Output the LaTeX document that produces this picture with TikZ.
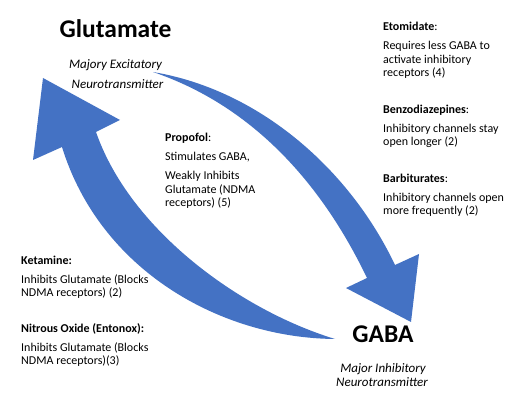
\documentclass[tikz,border=0pt]{standalone}
\usepackage{fontspec}
\setmainfont{Carlito}
\definecolor{wblue}{HTML}{4472C4}
\tikzset{
  body/.style={inner sep=0pt, anchor=base west, align=left, font=\fontsize{12}{13.5}\selectfont},
  title/.style={inner sep=0pt, anchor=base, font=\fontsize{25.5}{30}\selectfont\bfseries},
  sub/.style={inner sep=0pt, anchor=base, font=\fontsize{13}{15}\selectfont\itshape},
  bigarrow/.style={fill=wblue, draw=none}
}
\begin{document}
\begin{tikzpicture}[x=1pt,y=-1pt]
\useasboundingbox (0,0) rectangle (523,417);
\fill[white] (0,0) rectangle (523,417);
% Arrow from Glutamate to GABA
\fill[bigarrow] (153,72) .. controls (260,90) and (350,170) .. (395,265)
  -- (419,254) -- (411,322) -- (346,288) -- (367,278)
  .. controls (320,180) and (250,105) .. (153,72) -- cycle;
% Arrow from GABA to Glutamate
\fill[bigarrow] (335,339) .. controls (220,338) and (100,270) .. (62,147)
  -- (33,160) -- (43,78) -- (120,120) -- (96,132)
  .. controls (130,230) and (240,310) .. (335,339) -- cycle;
% Titles
\node[title] (glu) at (115.5,38) {Glutamate};
\node[sub] (glus1) at (115.5,69) {Majory Excitatory};
\node[sub] (glus2) at (117.5,89) {Neurotransmitter};
\node[title] (gaba) at (383,343) {GABA};
\node[sub] (gabas1) at (383,373) {Major Inhibitory};
\node[sub] (gabas2) at (382,387) {Neurotransmitter};
% Drug blocks (anchored at the baseline of their last line)
\node[body] (eto) at (383,77) {\textbf{Etomidate}:\\[5.5pt]Requires less GABA to\\activate inhibitory\\receptors (4)};
\node[body] (benzo) at (383,146) {\textbf{Benzodiazepines}:\\[5.5pt]Inhibitory channels stay\\open longer (2)};
\node[body] (barb) at (383,215) {\textbf{Barbiturates}:\\[5.5pt]Inhibitory channels open\\more frequently (2)};
\node[body] (prop) at (165,207) {\textbf{Propofol}:\\[5.5pt]Stimulates GABA,\\[5.5pt]Weakly Inhibits\\Glutamate (NDMA\\receptors) (5)};
\node[body] (ket) at (21,297) {\textbf{Ketamine:}\\[5.5pt]Inhibits Glutamate (Blocks\\NDMA receptors) (2)};
\node[body] (nit) at (21,365) {\textbf{Nitrous Oxide (Entonox):}\\[5.5pt]Inhibits Glutamate (Blocks\\NDMA receptors)(3)};
\end{tikzpicture}
\end{document}
